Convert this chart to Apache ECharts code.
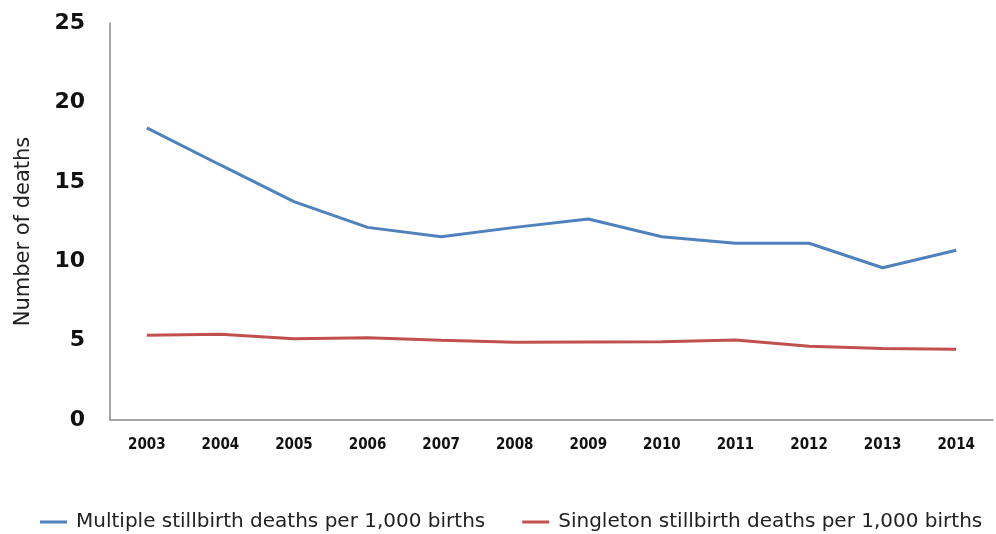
<!DOCTYPE html>
<html>
<head>
<meta charset="utf-8">
<script src="https://cdn.jsdelivr.net/npm/echarts@6/dist/echarts.min.js"></script>
<style>
  html, body { margin: 0; padding: 0; background: #fff; }
  #chart { width: 996px; height: 534px; }
</style>
</head>
<body>
<div id="chart"></div>
<script>
// data
const years = ['2003', '2004', '2005', '2006', '2007', '2008', '2009', '2010', '2011', '2012', '2013', '2014']
const multipleRate = [18.4, 16.06, 13.75, 12.13, 11.54, 12.13, 12.66, 11.54, 11.13, 11.13, 9.59, 10.69]
const singletonRate = [5.33, 5.4, 5.12, 5.18, 5.02, 4.89, 4.91, 4.93, 5.04, 4.64, 4.51, 4.45]
const yTicks = [0, 5, 10, 15, 20, 25]

const chart = echarts.init(document.getElementById('chart'))

const option = {
  animation: false,
  grid: { left: 110, right: 3, top: 23, bottom: 114, containLabel: false },
  legend: {
    left: 35,
    top: 507,
    icon: 'rect',
    itemWidth: 27,
    itemHeight: 3,
    itemGap: 37,
    textStyle: { fontFamily: 'DejaVu Sans', fontSize: 20, color: '#222', padding: [0, 0, 0, 4] },
    data: ['Multiple stillbirth deaths per 1,000 births', 'Singleton stillbirth deaths per 1,000 births']
  },
  xAxis: {
    type: 'category',
    data: years,
    boundaryGap: true,
    axisLine: { lineStyle: { color: '#888', width: 1.5 } },
    axisTick: { show: false },
    axisLabel: {
      margin: 18,
      fontFamily: 'DejaVu Sans Condensed',
      fontWeight: 'bold',
      fontSize: 15,
      color: '#111'
    }
  },
  yAxis: {
    type: 'value',
    min: 0,
    max: 25,
    interval: 5,
    name: 'Number of deaths',
    nameLocation: 'middle',
    nameGap: 76,
    nameTextStyle: { fontFamily: 'DejaVu Sans', fontSize: 21, color: '#222', padding: [0, 20, 0, 0] },
    axisLine: { show: true, lineStyle: { color: '#888', width: 1.5 } },
    axisTick: { show: false },
    splitLine: { show: false },
    axisLabel: {
      margin: 25,
      fontFamily: 'DejaVu Sans',
      fontWeight: 'bold',
      fontSize: 22,
      color: '#111',
      formatter: (v) => yTicks.includes(v) ? String(v) : ''
    }
  },
  series: [
    {
      name: 'Multiple stillbirth deaths per 1,000 births',
      type: 'line',
      data: multipleRate,
      showSymbol: false,
      color: '#4F81BD',
      lineStyle: { color: '#4F81BD', width: 3 }
    },
    {
      name: 'Singleton stillbirth deaths per 1,000 births',
      type: 'line',
      data: singletonRate,
      showSymbol: false,
      color: '#C0504D',
      lineStyle: { color: '#C0504D', width: 3 }
    }
  ]
}

chart.setOption(option)
</script>
</body>
</html>
